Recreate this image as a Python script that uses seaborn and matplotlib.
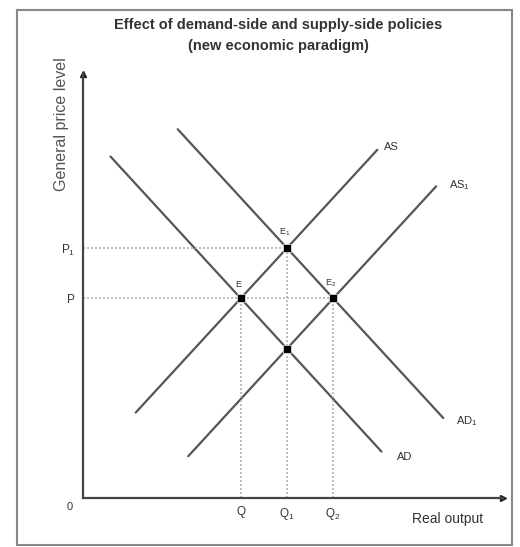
import matplotlib
matplotlib.use("Agg")
import matplotlib.pyplot as plt
import matplotlib.patches as patches
import seaborn as sns
import pandas as pd

# curves: two end points each (real output, price level)
curve_names = ["AS", "AS$_\\mathregular{1}$", "AD", "AD$_\\mathregular{1}$"]
curve_x = [[12.5, 70.0], [25.0, 84.0], [6.5, 71.0], [22.5, 85.7]]
curve_y = [[20.3, 82.9], [9.9, 74.2], [81.3, 11.0], [87.8, 19.0]]

# equilibria
eq_names = ["E", "E$_\\mathregular{1}$", "E$_\\mathregular{2}$", ""]
eq_x = [37.5, 48.5, 59.5, 48.5]
eq_y = [47.5, 59.5, 47.5, 35.5]

q_labels = ["Q", "Q$_\\mathregular{1}$", "Q$_\\mathregular{2}$"]
q_values = [37.5, 48.5, 59.5]
p_labels = ["P", "P$_\\mathregular{1}$"]
p_values = [47.5, 59.5]

sns.set_style("white")
plt.rcParams["font.family"] = ["Liberation Sans", "DejaVu Sans"]

fig = plt.figure(figsize=(5.2, 5.47), dpi=100)
ax = fig.add_axes([0.16, 0.09, 0.808, 0.775])

line_col = "#555555"
rows = []
for name, xs, ys in zip(curve_names, curve_x, curve_y):
    for x, y in zip(xs, ys):
        rows.append({"curve": name, "x": x, "y": y})
df = pd.DataFrame(rows)
sns.lineplot(data=df, x="x", y="y", units="curve", estimator=None,
             color=line_col, lw=1.6, ax=ax, sort=False)

# curve labels
label_off = [(5, 2), (9, 1), (11, -4), (9, -2)]
for name, xs, ys, off in zip(curve_names, curve_x, curve_y, label_off):
    ax.annotate(name, (xs[1], ys[1]), xytext=off, textcoords="offset points",
                fontsize=8, color="#333333", ha="left", va="center")

# dotted guides
guide = dict(ls=(0, (1.2, 1.2)), color="#b0b0b0", lw=1.2)
for x, y in zip(eq_x[:3], eq_y[:3]):
    ax.plot([x, x], [0, y], **guide)
ax.plot([0, eq_x[1]], [p_values[1], p_values[1]], **guide)
ax.plot([0, eq_x[2]], [p_values[0], p_values[0]], **guide)

sns.scatterplot(x=eq_x, y=eq_y, marker="s", s=30, color="black", ax=ax, zorder=5)
for name, x, y in zip(eq_names, eq_x, eq_y):
    if name:
        ax.annotate(name, (x, y), xytext=(-2, 7), textcoords="offset points",
                    fontsize=6.5, color="#333333", ha="center", va="bottom")

ax.set_xlim(0, 100)
ax.set_ylim(0, 101)
ax.set_xticks(q_values, q_labels)
ax.set_yticks(p_values, p_labels)
ax.tick_params(length=0, labelsize=8.5, colors="#333333", pad=6)
for s in ["top", "right"]:
    ax.spines[s].set_visible(False)
for s in ["left", "bottom"]:
    ax.spines[s].set_color("#444444")
    ax.spines[s].set_linewidth(1.6)
ax.plot(1, 0, ">", color="#222222", ms=4, transform=ax.transAxes, clip_on=False)
ax.plot(0, 1, "^", color="#222222", ms=4, transform=ax.transAxes, clip_on=False)
ax.text(-0.025, -0.01, "0", transform=ax.transAxes, fontsize=8, color="#333333",
        ha="right", va="top")
ax.set_xlabel("")
ax.set_ylabel("")

fig.text(0.86, 0.052, "Real output", fontsize=10, color="#333333", ha="center", va="center")
fig.text(0.119, 0.895, "General price level", rotation=90, fontsize=11.5, color="#555555",
         ha="center", va="top")
fig.text(0.535, 0.955, "Effect of demand-side and supply-side policies", fontsize=10.5,
         fontweight="bold", color="#333333", ha="center", va="center")
fig.text(0.535, 0.916, "(new economic paradigm)", fontsize=10.5, fontweight="bold",
         color="#333333", ha="center", va="center")

fig.patches.append(patches.Rectangle((0.033, 0.004), 0.952, 0.978, transform=fig.transFigure,
                                     fill=False, edgecolor="#888888", lw=1.5))

fig.savefig("out.png", dpi=100)
